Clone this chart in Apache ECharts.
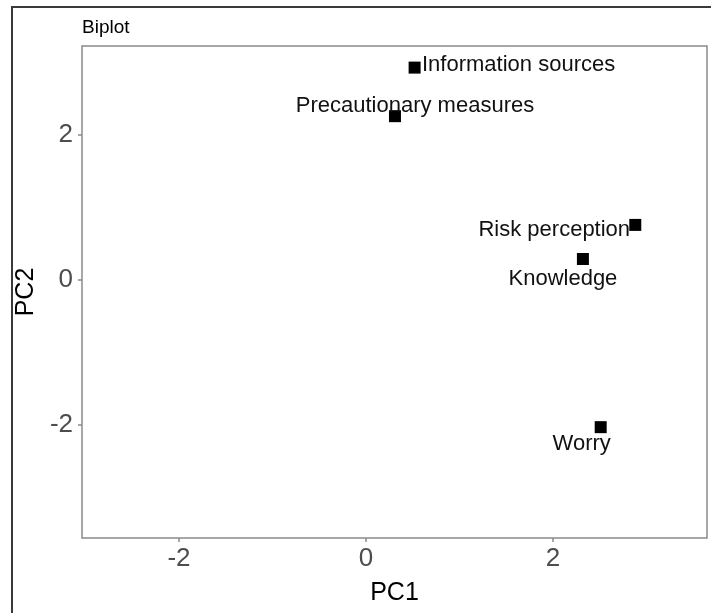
<!DOCTYPE html>
<html>
<head>
<meta charset="utf-8">
<script src="https://cdn.jsdelivr.net/npm/echarts@6/dist/echarts.min.js"></script>
<style>
html,body{margin:0;padding:0;background:#fff;}
#chart{width:711px;height:613px;}
</style>
</head>
<body>
<div id="chart"></div>
<script>
const variables = ["Information sources", "Precautionary measures", "Risk perception", "Knowledge", "Worry"];
const pc1 = [0.52, 0.31, 2.88, 2.32, 2.51];
const pc2 = [2.93, 2.26, 0.76, 0.29, -2.03];
const xTicks = [-2, 0, 2];
const yTicks = [-2, 0, 2];
const chartTitle = "Biplot";
const xTitle = "PC1";
const yTitle = "PC2";

// label placement (style only, separate from data)
const labelOffsets = {
  "Information sources": [104, -3],
  "Precautionary measures": [20, -10],
  "Risk perception": [-81, 5],
  "Knowledge": [-20, 20],
  "Worry": [-19, 17]
};

const font = "'Liberation Sans', Arial, sans-serif";

const data = variables.map((name, i) => ({
  name: name,
  value: [pc1[i], pc2[i]]
}));

const chart = echarts.init(document.getElementById('chart'), null, {renderer: 'canvas'});
chart.setOption({
  animation: false,
  backgroundColor: '#fff',
  grid: { left: 82, top: 46, right: 4, bottom: 75, show: true, borderColor: '#8a8a8a', borderWidth: 1.5, backgroundColor: '#fff' },
  graphic: [
    { type: 'rect', shape: { x: 12, y: 7, width: 760, height: 700 }, style: { fill: null, stroke: '#3a3a3a', lineWidth: 2 }, z: -1 },
    { type: 'text', left: 82, top: 18, style: { text: chartTitle, font: "19px 'Liberation Sans', Arial, sans-serif", fill: '#000' } }
  ],
  xAxis: {
    type: 'value', min: -3.037, max: 3.647,
    name: xTitle, nameLocation: 'middle', nameGap: 43,
    nameTextStyle: { fontFamily: font, fontSize: 25, color: '#000' },
    splitLine: { show: false },
    axisLine: { show: false, onZero: false },
    axisTick: { show: true, length: 4, lineStyle: { color: '#8a8a8a', width: 1.5 }, customValues: xTicks },
    axisLabel: { fontFamily: font, fontSize: 26, color: '#4d4d4d', margin: 8, customValues: xTicks }
  },
  yAxis: {
    type: 'value', min: -3.559, max: 3.228,
    name: yTitle, nameLocation: 'middle', nameGap: 34,
    nameTextStyle: { fontFamily: font, fontSize: 25, color: '#000' },
    splitLine: { show: false },
    axisLine: { show: false, onZero: false },
    axisTick: { show: true, length: 4, lineStyle: { color: '#8a8a8a', width: 1.5 }, customValues: yTicks },
    axisLabel: { fontFamily: font, fontSize: 26, color: '#4d4d4d', margin: 9, customValues: yTicks }
  },
  series: [{
    type: 'scatter',
    symbol: 'rect',
    symbolSize: 12,
    itemStyle: { color: '#000', opacity: 1 },
    label: {
      show: true,
      position: 'inside',
      formatter: '{b}',
      fontFamily: font,
      fontSize: 22,
      color: '#111',
      opacity: 1
    },
    labelLayout: function (params) {
      const off = labelOffsets[variables[params.dataIndex]] || [0, 0];
      return { dx: off[0], dy: off[1], hideOverlap: false };
    },
    data: data,
    z: 3
  }]
});
</script>
</body>
</html>
